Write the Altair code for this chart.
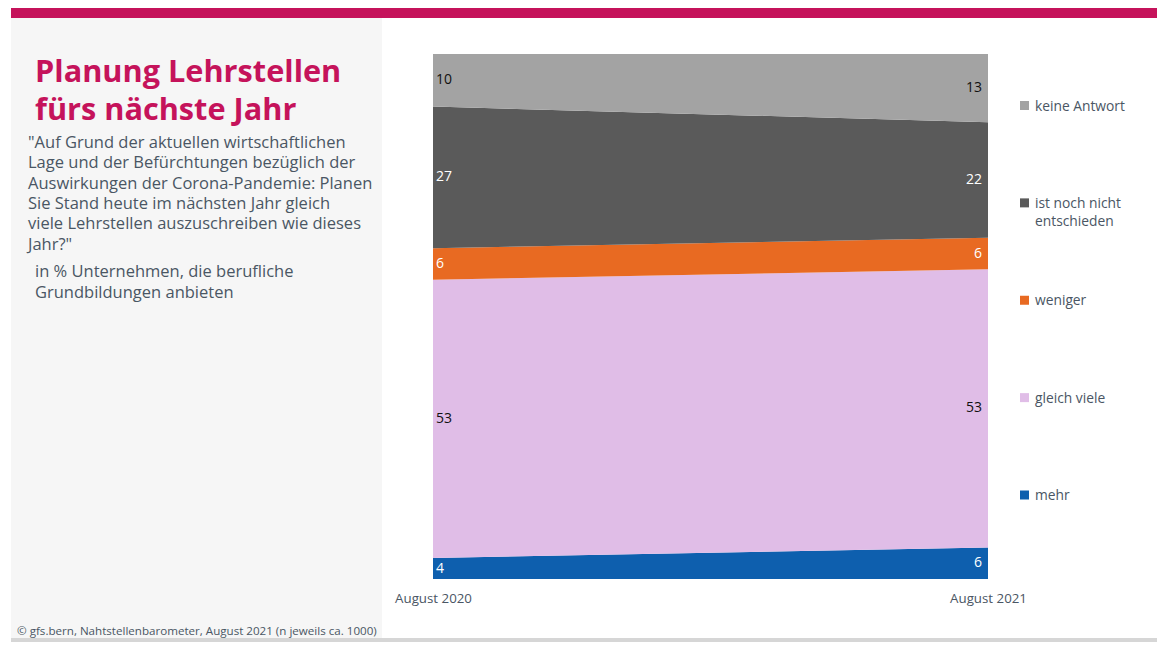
import altair as alt
import pandas as pd

FONT = "Open Sans"

periods = ["August 2020", "August 2021"]
categories = ["mehr", "gleich viele", "weniger", "ist noch nicht entschieden", "keine Antwort"]
values_2020 = [4, 53, 6, 27, 10]
values_2021 = [6, 53, 6, 22, 13]
colors = ["#0e5fae", "#e0bde7", "#e86a22", "#5a5a5a", "#a3a3a3"]
white_label_cats = ["mehr", "weniger", "ist noch nicht entschieden"]
legend_order = ["keine Antwort", "ist noch nicht entschieden", "weniger", "gleich viele", "mehr"]

title_lines = ["Planung Lehrstellen", "fürs nächste Jahr"]
question_lines = [
    '"Auf Grund der aktuellen wirtschaftlichen',
    "Lage und der Befürchtungen bezüglich der",
    "Auswirkungen der Corona-Pandemie: Planen",
    "Sie Stand heute im nächsten Jahr gleich",
    "viele Lehrstellen auszuschreiben wie dieses",
    'Jahr?"',
]
basis_lines = ["in % Unternehmen, die berufliche", "Grundbildungen anbieten"]
source_text = "© gfs.bern, Nahtstellenbarometer, August 2021 (n jeweils ca. 1000)"

rows = []
for p, vals in zip(periods, [values_2020, values_2021]):
    for i, (c, v) in enumerate(zip(categories, vals)):
        rows.append({"period": p, "category": c, "value": v, "order": i})
df = pd.DataFrame(rows)

TEXT_COL = "#4a5664"
MAGENTA = "#c5135b"

base = alt.Chart(df).transform_stack(
    stack="value", groupby=["period"], as_=["y0", "y1"],
    sort=[alt.SortField("order", order="ascending")]
).transform_calculate(mid="(datum.y0 + datum.y1) / 2")

xenc = alt.X(
    "period:N",
    scale=alt.Scale(type="point", padding=0, domain=periods),
    axis=alt.Axis(title=None, labelAngle=0, domain=False, ticks=False, grid=False,
                  labelFontSize=13.3, labelFont=FONT, labelColor=TEXT_COL, labelPadding=12),
)
yscale = alt.Scale(domain=[0, 100], nice=False, zero=True)
cscale = alt.Scale(domain=categories, range=colors)

area = base.mark_area(interpolate="linear", opacity=1).encode(
    x=xenc,
    y=alt.Y("y1:Q", scale=yscale, axis=None),
    y2="y0:Q",
    color=alt.Color("category:N", scale=cscale, legend=None),
)

label_color = alt.condition(
    alt.FieldOneOfPredicate(field="category", oneOf=white_label_cats),
    alt.value("white"), alt.value("#111111"))

lab_left = base.transform_filter(alt.datum.period == periods[0]).mark_text(
    align="left", baseline="middle", dx=3, fontSize=14, font=FONT
).encode(x=xenc, y=alt.Y("mid:Q", scale=yscale, axis=None), text="value:Q", color=label_color)

lab_right = base.transform_filter(alt.datum.period == periods[1]).mark_text(
    align="right", baseline="middle", dx=-6, fontSize=14, font=FONT
).encode(x=xenc, y=alt.Y("mid:Q", scale=yscale, axis=None), text="value:Q", color=label_color)

leg_df = pd.DataFrame({"category": legend_order})
leg_y = alt.Y("category:N", scale=alt.Scale(type="point", domain=legend_order, range=[51.5, 441], padding=0), axis=None)
leg_sq = alt.Chart(leg_df).mark_square(size=81, opacity=1, filled=True).encode(
    x=alt.value(591.5), y=leg_y,
    color=alt.Color("category:N", scale=cscale, legend=None),
)
leg_txt = alt.Chart(leg_df).transform_calculate(
    label="replace(datum.category, 'nicht ', 'nicht\\n')"
).mark_text(align="left", baseline="alphabetic", dy=5, fontSize=13.8, font=FONT,
            color=TEXT_COL, lineBreak="\n", lineHeight=18).encode(
    x=alt.value(602), y=leg_y, text="label:N"
)

one = pd.DataFrame({"k": [0]})
top_bar = alt.Chart(one).mark_rect(color=MAGENTA).encode(
    x=alt.value(-422), x2=alt.value(732), y=alt.value(-46), y2=alt.value(-36))
panel = alt.Chart(one).mark_rect(color="#f6f6f6").encode(
    x=alt.value(-422), x2=alt.value(-51), y=alt.value(-36), y2=alt.value(584))
bottom_bar = alt.Chart(one).mark_rect(color="#d6d6d6").encode(
    x=alt.value(-422), x2=alt.value(732), y=alt.value(584), y2=alt.value(588))

title_txt = alt.Chart(one).mark_text(
    text=title_lines, align="left", baseline="alphabetic", fontSize=30.7, fontWeight="bold",
    font=FONT, color=MAGENTA, lineHeight=38
).encode(x=alt.value(-398), y=alt.value(28))

question_txt = alt.Chart(one).mark_text(
    text=question_lines, align="left", baseline="alphabetic", fontSize=16.5,
    font=FONT, color=TEXT_COL, lineHeight=20.3
).encode(x=alt.value(-405), y=alt.value(94))

basis_txt = alt.Chart(one).mark_text(
    text=basis_lines, align="left", baseline="alphabetic", fontSize=16.5,
    font=FONT, color=TEXT_COL, lineHeight=21
).encode(x=alt.value(-398), y=alt.value(223))

source_txt = alt.Chart(one).mark_text(
    text=source_text, align="left", baseline="alphabetic", fontSize=11.6,
    font=FONT, color=TEXT_COL
).encode(x=alt.value(-416), y=alt.value(581))

chart = alt.layer(
    top_bar, panel, bottom_bar, area, lab_left, lab_right, leg_sq, leg_txt,
    title_txt, question_txt, basis_txt, source_txt
).resolve_scale(y="independent").properties(
    width=555, height=525,
    autosize="none",
    padding={"left": 425, "top": 46, "right": 169, "bottom": 63},
    background="white",
).configure_view(strokeWidth=0)

chart.save("out.html", embed_options={"renderer": "svg", "actions": False})
